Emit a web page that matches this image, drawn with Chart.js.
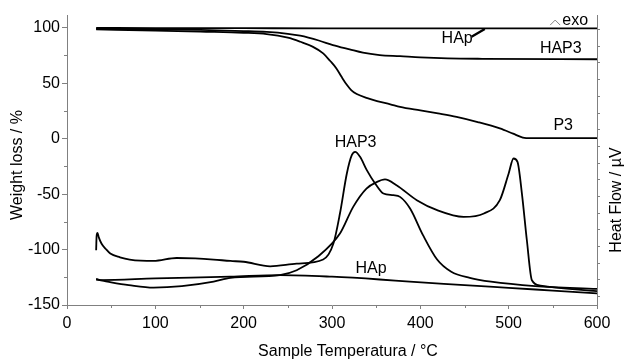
<!doctype html>
<html lang="en">
<head>
<meta charset="utf-8">
<title>TG / DSC</title>
<script src="https://cdn.jsdelivr.net/npm/chart.js@4.4.1/dist/chart.umd.min.js"></script>
<style>
  body { margin: 0; background: #fff; }
</style>
</head>
<body>
<canvas id="tgChart" width="627" height="361"></canvas>
<script>
// tick labels
var xTicks = [0, 100, 200, 300, 400, 500, 600];
var xMinor = [50, 150, 250, 350, 450, 550];
var yTicks = [-150, -100, -50, 0, 50, 100];
var yMinor = [-125, -75, -25, 25, 75];

// TG curves (weight loss %)
var tgHApT = [33, 100, 200, 300, 400, 500, 600];
var tgHApW = [99.8, 99.7, 99.6, 99.5, 99.5, 99.4, 99.4];

var tgHAP3T = [33, 100, 151, 200, 226, 250, 264, 285, 301, 320, 335, 354, 377, 400, 431, 470, 600];
var tgHAP3W = [99, 98.6, 98, 97, 96.2, 94.5, 92.8, 88.5, 84.4, 80.5, 77.5, 75.4, 74.4, 73.3, 72.4, 72, 71.6];

var tgP3T = [33, 100, 151, 200, 226, 250, 264, 278, 290, 298, 305, 311, 317, 322, 328, 340, 351, 366, 377, 400, 420, 441, 465, 490, 505, 516, 525, 600];
var tgP3W = [98.5, 97.5, 96.5, 95.5, 94.3, 91, 87.4, 83, 76.9, 70, 63.3, 55.5, 48.3, 43.5, 40.2, 36.5, 33.8, 31, 28.7, 25.5, 22.8, 19.7, 15, 9.2, 4.5, 1, 0.4, 0.4];

// leader line for the HAp label
var leaderT = [458, 473];
var leaderW = [91.9, 98.8];

// DSC curves (heat flow, drawn on the same scale)
var dscHAP3T = [33, 33.5, 34.5, 36, 39, 44, 49, 60, 71, 98, 124, 145, 166, 185, 200, 230, 260, 290, 301.6, 309, 316.8, 322.4, 326.2, 331.8, 339.4, 348.8, 358.2, 369.5, 377, 388.4, 403, 419, 435, 456, 480, 530, 600];
var dscHAP3H = [-100.6, -88, -85, -89, -94.6, -99.5, -103.6, -107, -109, -110.3, -107.6, -108, -109, -110.3, -111, -115.1, -112.7, -109, -94.6, -67.5, -31.4, -14.9, -11.9, -16.4, -28.4, -40.4, -49.5, -51, -52.5, -63, -87, -109, -120, -125.5, -129, -133, -135.5];

var dscP3T = [33, 40, 50, 70, 98, 130, 166, 185, 241, 260, 283, 309, 324, 339, 351, 360, 373, 396, 419, 449, 472, 490, 500, 505.5, 510, 515, 520.6, 526.3, 536, 600];
var dscP3H = [-127, -128, -129.5, -132, -134.3, -133, -129, -125.5, -123, -118.7, -107, -85.6, -61.5, -45, -39, -36.8, -42, -55.5, -64.5, -70.6, -67.5, -55.5, -31.4, -17.9, -20.9, -49.5, -91.6, -127.7, -132.5, -137.5];

var dscHApT = [33, 38, 100, 185, 241, 300, 354, 388, 450, 500, 550, 600];
var dscHApH = [-126.5, -127.5, -126, -124.5, -123, -124.5, -127, -129, -132, -134.5, -137, -139.5];

// curve labels
var labelText = ['HAp', 'HAP3', 'P3', 'HAP3', 'HAp', 'exo'];
var labelT = [441.7, 559, 561.7, 326.7, 344.3, 575.3];
var labelV = [86.2, 76.9, 7.7, -7.4, -121.4, 102.4];

var FONT = "'Liberation Sans', Arial, sans-serif";

function pts(t, v) {
  var out = [];
  for (var i = 0; i < t.length; i++) out.push({x: t[i], y: v[i]});
  return out;
}

function curve(t, v, w) {
  return {
    data: pts(t, v),
    borderColor: '#000',
    borderWidth: w || 1.8,
    pointRadius: 0,
    fill: false,
    tension: 0.4,
    cubicInterpolationMode: 'monotone'
  };
}

var extras = {
  id: 'extras',
  afterDraw: function(chart) {
    var ctx = chart.ctx;
    var xs = chart.scales.x, ys = chart.scales.y, area = chart.chartArea;
    ctx.save();
    // minor ticks
    ctx.strokeStyle = '#808080';
    ctx.lineWidth = 1;
    ctx.beginPath();
    xMinor.forEach(function(v) {
      var px = Math.round(xs.getPixelForValue(v)) + 0.5;
      ctx.moveTo(px, area.bottom);
      ctx.lineTo(px, area.bottom + 3);
    });
    yMinor.forEach(function(v) {
      var py = Math.round(ys.getPixelForValue(v)) + 0.5;
      ctx.moveTo(area.left, py);
      ctx.lineTo(area.left - 3, py);
    });
    ctx.stroke();

    // curve labels
    ctx.fillStyle = '#000';
    ctx.font = '16px ' + FONT;
    ctx.textAlign = 'center';
    ctx.textBaseline = 'alphabetic';
    for (var i = 0; i < labelText.length; i++) {
      ctx.fillText(labelText[i], xs.getPixelForValue(labelT[i]), ys.getPixelForValue(labelV[i]));
    }
    // exo caret
    var cx = xs.getPixelForValue(labelT[5]) - 20;
    var cy = ys.getPixelForValue(labelV[5]);
    ctx.beginPath();
    ctx.lineWidth = 1;
    ctx.moveTo(cx - 5, cy);
    ctx.lineTo(cx, cy - 5);
    ctx.lineTo(cx + 5, cy);
    ctx.stroke();

    // axis titles
    ctx.font = '16px ' + FONT;
    ctx.textBaseline = 'middle';
    ctx.fillText('Sample Temperatura / \u00B0C', (area.left + area.right) / 2 + 16, 352);
    ctx.save();
    ctx.translate(18, (area.top + area.bottom) / 2 + 5);
    ctx.rotate(-Math.PI / 2);
    ctx.fillText('Weight loss / %', 0, 0);
    ctx.restore();
    ctx.save();
    ctx.translate(617, 200);
    ctx.rotate(-Math.PI / 2);
    ctx.fillText('Heat Flow / \u00B5V', 0, 0);
    ctx.restore();
    ctx.restore();
  }
};

new Chart(document.getElementById('tgChart'), {
  type: 'line',
  data: {
    datasets: [
      curve(tgHApT, tgHApW),
      curve(tgHAP3T, tgHAP3W),
      curve(tgP3T, tgP3W),
      curve(leaderT, leaderW, 2.4),
      curve(dscHAP3T, dscHAP3H),
      curve(dscP3T, dscP3H),
      curve(dscHApT, dscHApH)
    ]
  },
  options: {
    responsive: false,
    animation: false,
    layout: { padding: { top: 15, left: 0, right: 0, bottom: 0 } },
    plugins: { legend: { display: false }, tooltip: { enabled: false } },
    scales: {
      x: {
        type: 'linear',
        min: 0, max: 600,
        afterBuildTicks: function(s) { s.ticks = xTicks.map(function(v) { return {value: v}; }); },
        afterFit: function(s) { s.height = 56; },
        ticks: { color: '#000', font: { family: FONT, size: 16 }, padding: 5, maxRotation: 0 },
        grid: { drawOnChartArea: false, tickLength: 4, color: '#808080' },
        border: { color: '#808080' }
      },
      y: {
        min: -150, max: 111.5,
        afterBuildTicks: function(s) { s.ticks = yTicks.map(function(v) { return {value: v}; }); },
        afterFit: function(s) { s.width = 67; },
        ticks: { color: '#000', font: { family: FONT, size: 16 }, padding: 2 },
        grid: { drawOnChartArea: false, tickLength: 5, color: '#808080' },
        border: { color: '#808080' }
      },
      y2: {
        position: 'right',
        min: -0.5, max: 16.87,
        afterBuildTicks: function(s) {
          var t = [];
          for (var k = 0; k <= 16; k++) t.push({value: k});
          s.ticks = t;
        },
        afterFit: function(s) { s.width = 30; },
        ticks: { display: false },
        grid: { drawOnChartArea: false, tickLength: 3, color: '#808080' },
        border: { color: '#808080' }
      }
    }
  },
  plugins: [extras]
});
</script>
</body>
</html>
